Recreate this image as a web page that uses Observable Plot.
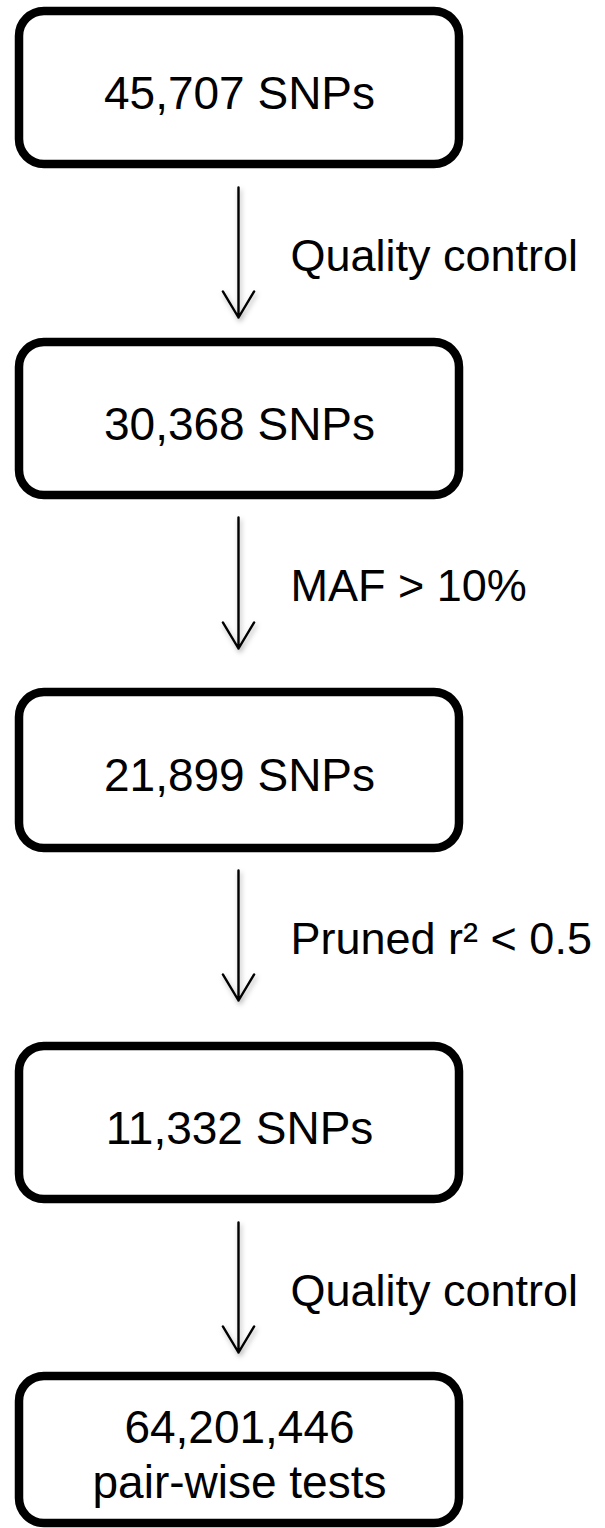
<!DOCTYPE html>
<html>
<head>
<meta charset="utf-8">
<script src="https://cdn.jsdelivr.net/npm/d3@7"></script>
<script src="https://cdn.jsdelivr.net/npm/@observablehq/plot@0.6"></script>
<style>
  html, body { margin: 0; padding: 0; background: #ffffff; }
  #chart svg { display: block; }
</style>
</head>
<body>
<div id="chart"></div>
<script>
// --- data ---
const stageLabels = ["45,707 SNPs", "30,368 SNPs", "21,899 SNPs", "11,332 SNPs", "64,201,446\npair-wise tests"];
const stepLabels = ["Quality control", "MAF > 10%", "Pruned r² < 0.5", "Quality control"];

// --- layout (pixel rows) ---
const boxTop = [11, 342, 692, 1046, 1376];
const boxBottom = [164, 495, 848, 1199, 1523];
const arrowStart = [187, 517, 870, 1222];
const arrowEnd = [317, 648, 1000, 1352];
const columnX = 239;
const boxHalfWidth = 220;
const labelX = 290;

const boxes = stageLabels.map((label, i) => ({
  label, x1: columnX - boxHalfWidth, x2: columnX + boxHalfWidth,
  y1: boxTop[i], y2: boxBottom[i], cy: (boxTop[i] + boxBottom[i]) / 2
}));
const steps = stepLabels.map((label, i) => ({
  label, x: columnX - 1, y1: arrowStart[i], y2: arrowEnd[i], cy: (arrowStart[i] + arrowEnd[i]) / 2
}));

const font = "'Liberation Sans', Arial, Helvetica, sans-serif";

const chart = Plot.plot({
  width: 605,
  height: 1528,
  margin: 0,
  x: {type: "identity", axis: null},
  y: {type: "identity", axis: null},
  style: {background: "#ffffff", fontFamily: font},
  marks: [
    Plot.rect(boxes, {x1: "x1", x2: "x2", y1: "y1", y2: "y2", rx: 25, fill: "#ffffff", stroke: "#000000", strokeWidth: 8.5}),
    Plot.text(boxes, {x: columnX, y: "cy", text: "label", dy: 3, fontSize: 46, lineHeight: 1.2, fill: "#000000", textAnchor: "middle", lineAnchor: "middle"}),
    Plot.arrow(steps, {x1: "x", x2: "x", y1: "y1", y2: "y2", stroke: "#000000", strokeWidth: 2.4, headAngle: 62, headLength: 19}),
    Plot.text(steps, {x: labelX, y: "cy", text: "label", dy: 4, fontSize: 45, fill: "#000000", textAnchor: "start", lineAnchor: "middle"})
  ]
});

// subtle drop shadow on the arrows, as in the reference
const svg = d3.select(chart);
const defs = svg.insert("defs", ":first-child");
const f = defs.append("filter").attr("id", "arrowShadow").attr("x", "-50%").attr("y", "-20%").attr("width", "200%").attr("height", "140%");
f.append("feDropShadow").attr("dx", 1.5).attr("dy", 3).attr("stdDeviation", 2.5).attr("flood-color", "#000").attr("flood-opacity", 0.3);
svg.selectAll("g[aria-label='arrow']").attr("filter", "url(#arrowShadow)");

document.getElementById("chart").appendChild(chart);
</script>
</body>
</html>
